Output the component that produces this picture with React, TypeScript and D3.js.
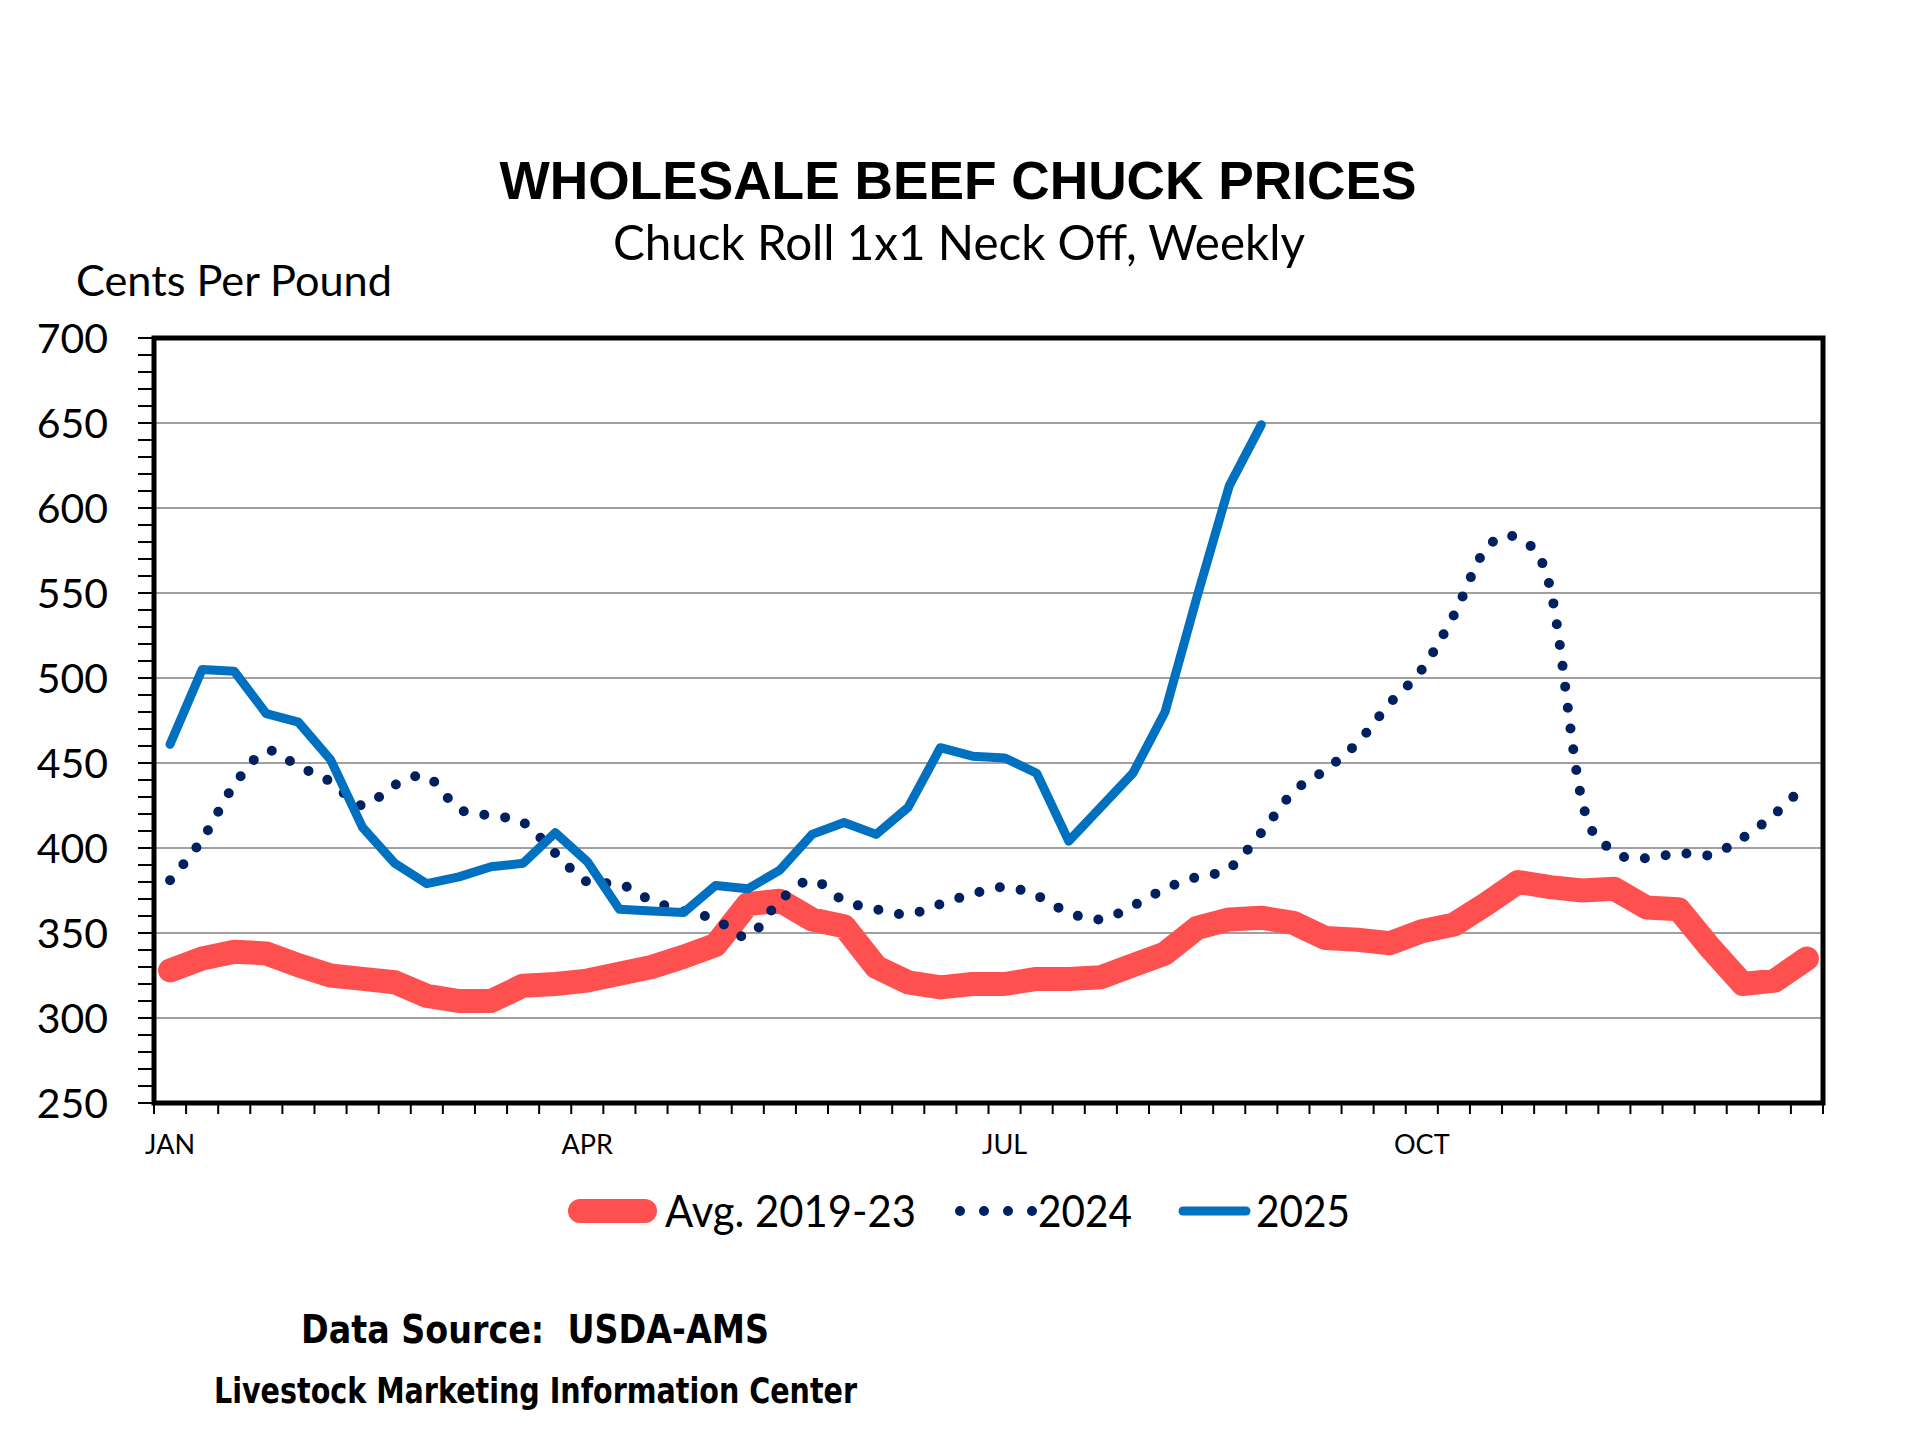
import React from "react";
import * as d3 from "d3";

// ---------- data ----------
const weeks = d3.range(52);

const avg2019_23 = [
  328, 335, 339, 338, 331, 325, 323, 321, 313, 310, 310, 319, 320, 322, 326, 330,
  336, 343, 367, 369, 358, 354, 330, 321, 318, 320, 320, 323, 323, 324, 331, 338,
  353, 358, 359, 356, 347, 346, 344, 351, 355, 367, 380, 377, 375, 376, 365, 364,
  341, 320, 322, 335,
];

const y2024 = [
  381, 405, 437, 457, 448, 439, 425, 437, 442, 423, 419, 415, 397, 380, 379, 369,
  363, 358, 348, 369, 381, 369, 364, 361, 367, 373, 377, 372, 362, 358, 366, 376,
  383, 388, 409, 433, 446, 462, 485, 505, 537, 576, 582, 553, 427, 398, 394, 397,
  396, 406, 420, 438,
];

const y2025 = [
  461, 505, 504, 479, 474, 452, 412, 391, 379, 383, 389, 391, 409, 392, 364, 363,
  362, 378, 376, 387, 408, 415, 408, 424, 459, 454, 453, 444, 404, 424, 444, 480,
  548, 613, 649,
];

const yTickValues = [250, 300, 350, 400, 450, 500, 550, 600, 650, 700];
const monthNames = ["JAN", "APR", "JUL", "OCT"];
const monthWeeks = [0, 13, 26, 39];

const seriesNames = ["Avg. 2019-23", "2024", "2025"];

// ---------- styles ----------
const RED = "#FF5050";
const NAVY = "#002060";
const BLUE = "#0070C0";
const CAL = "Lato, 'Noto Sans', sans-serif";

export default function App() {
  const W = 1920;
  const H = 1440;
  const left = 154;
  const right = 1823;
  const top = 338;
  const bottom = 1103;

  const x = d3.scaleBand<number>().domain(weeks).range([left, right]).padding(0);
  const cx = (i: number) => (x(i) as number) + x.bandwidth() / 2;
  const y = d3.scaleLinear().domain([250, 700]).range([bottom, top]);

  const lineLinear = d3
    .line<number>()
    .x((_, i) => cx(i))
    .y((d) => y(d));
  const lineSmooth = d3
    .line<number>()
    .x((_, i) => cx(i))
    .y((d) => y(d))
    .curve(d3.curveCardinal.tension(0));

  const minorTicks = d3.range(250, 701, 10);
  const xTickPos = d3.range(weeks.length + 1).map((k) => left + k * x.step());
  const gridValues = yTickValues.filter((v) => v !== 250 && v !== 700);

  const legY = 1211;

  return (
    <svg
      width={W}
      height={H}
      viewBox={`0 0 ${W} ${H}`}
      style={{ position: "absolute", left: 0, top: 0, background: "#fff" }}
    >
      <rect x={0} y={0} width={W} height={H} fill="#fff" />

      {/* titles */}
      <text
        x={958}
        y={199}
        textAnchor="middle"
        fontFamily="'Liberation Sans', Arial, sans-serif"
        fontWeight="bold"
        fontSize={53}
        textLength={917}
        lengthAdjust="spacingAndGlyphs"
        fill="#000"
      >
        WHOLESALE BEEF CHUCK PRICES
      </text>
      <text
        x={959}
        y={260}
        textAnchor="middle"
        fontFamily={CAL}
        fontSize={49}
        textLength={692}
        lengthAdjust="spacingAndGlyphs"
        fill="#000"
      >
        Chuck Roll 1x1 Neck Off, Weekly
      </text>
      <text
        x={76}
        y={296}
        fontFamily={CAL}
        fontSize={43}
        textLength={316}
        lengthAdjust="spacingAndGlyphs"
        fill="#000"
      >
        Cents Per Pound
      </text>

      {/* gridlines */}
      {gridValues.map((v) => (
        <line
          key={"g" + v}
          x1={left}
          x2={right}
          y1={y(v)}
          y2={y(v)}
          stroke="#808080"
          strokeWidth={1.6}
        />
      ))}

      {/* y ticks */}
      {minorTicks.map((v) => (
        <line
          key={"yt" + v}
          x1={left - 16}
          x2={left}
          y1={y(v)}
          y2={y(v)}
          stroke="#000"
          strokeWidth={2}
        />
      ))}
      {yTickValues.map((v) => (
        <text
          key={"yl" + v}
          x={108}
          y={y(v) + 14.5}
          textAnchor="end"
          fontFamily={CAL}
          fontSize={41}
          fill="#000"
        >
          {v}
        </text>
      ))}

      {/* x ticks */}
      {xTickPos.map((p, k) => (
        <line
          key={"xt" + k}
          x1={p}
          x2={p}
          y1={bottom}
          y2={bottom + 11}
          stroke="#000"
          strokeWidth={2}
        />
      ))}
      {monthNames.map((m, k) => (
        <text
          key={m}
          x={cx(monthWeeks[k])}
          y={1154}
          textAnchor="middle"
          fontFamily={CAL}
          fontSize={27}
          fill="#000"
        >
          {m}
        </text>
      ))}

      {/* series */}
      <path
        d={lineLinear(avg2019_23) || ""}
        fill="none"
        stroke={RED}
        strokeWidth={24}
        strokeLinejoin="round"
        strokeLinecap="round"
      />
      <path
        d={lineSmooth(y2024) || ""}
        fill="none"
        stroke={NAVY}
        strokeWidth={10}
        strokeDasharray="0 21"
        strokeLinecap="round"
      />
      <path
        d={lineLinear(y2025) || ""}
        fill="none"
        stroke={BLUE}
        strokeWidth={9}
        strokeLinejoin="round"
        strokeLinecap="round"
      />

      {/* plot border */}
      <rect
        x={left}
        y={top}
        width={right - left}
        height={bottom - top}
        fill="none"
        stroke="#000"
        strokeWidth={5}
      />

      {/* legend */}
      <line x1={580} x2={645} y1={legY} y2={legY} stroke={RED} strokeWidth={24} strokeLinecap="round" />
      <text
        x={665}
        y={1227}
        fontFamily={CAL}
        fontSize={44}
        textLength={251}
        lengthAdjust="spacingAndGlyphs"
        fill="#000"
      >
        {seriesNames[0]}
      </text>
      <line
        x1={960}
        x2={1033}
        y1={legY}
        y2={legY}
        stroke={NAVY}
        strokeWidth={10}
        strokeDasharray="0 24"
        strokeLinecap="round"
      />
      <text
        x={1038}
        y={1227}
        fontFamily={CAL}
        fontSize={44}
        textLength={94}
        lengthAdjust="spacingAndGlyphs"
        fill="#000"
      >
        {seriesNames[1]}
      </text>
      <line x1={1183} x2={1246} y1={legY} y2={legY} stroke={BLUE} strokeWidth={9} strokeLinecap="round" />
      <text
        x={1256}
        y={1227}
        fontFamily={CAL}
        fontSize={44}
        textLength={94}
        lengthAdjust="spacingAndGlyphs"
        fill="#000"
      >
        {seriesNames[2]}
      </text>

      {/* footer */}
      <text
        x={301}
        y={1343}
        fontFamily="'DejaVu Sans', Verdana, sans-serif"
        fontWeight="bold"
        fontSize={39}
        textLength={468}
        lengthAdjust="spacingAndGlyphs"
        fill="#000"
        style={{ whiteSpace: "pre" }}
      >
        {"Data Source:  USDA-AMS"}
      </text>
      <text
        x={214}
        y={1403}
        fontFamily="'DejaVu Sans', Verdana, sans-serif"
        fontWeight="bold"
        fontSize={35}
        textLength={643}
        lengthAdjust="spacingAndGlyphs"
        fill="#000"
      >
        Livestock Marketing Information Center
      </text>
    </svg>
  );
}
